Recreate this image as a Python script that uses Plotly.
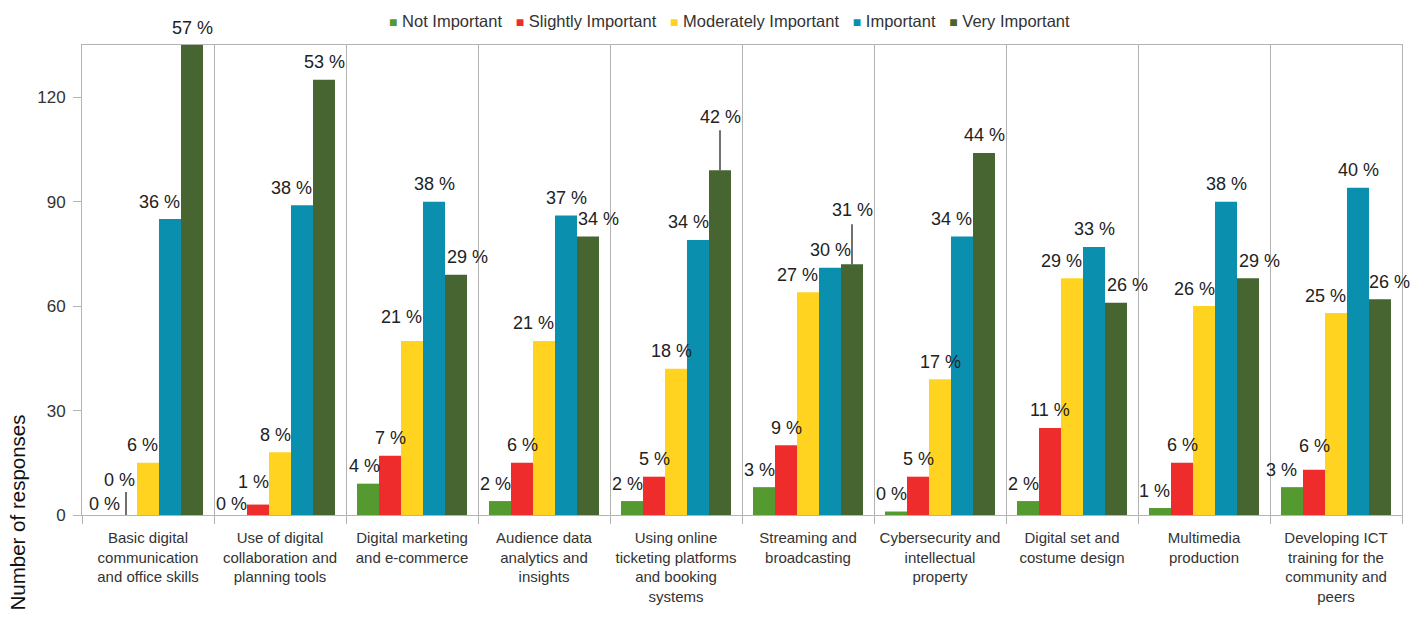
import plotly.graph_objects as go

# ---- data -----------------------------------------------------------------
categories = [
    "Basic digital<br>communication<br>and office skills",
    "Use of digital<br>collaboration and<br>planning tools",
    "Digital marketing<br>and e-commerce",
    "Audience data<br>analytics and<br>insights",
    "Using online<br>ticketing platforms<br>and booking<br>systems",
    "Streaming and<br>broadcasting",
    "Cybersecurity and<br>intellectual<br>property",
    "Digital set and<br>costume design",
    "Multimedia<br>production",
    "Developing ICT<br>training for the<br>community and<br>peers",
]

series_names = ["Not Important", "Slightly Important", "Moderately Important",
                "Important", "Very Important"]

not_important        = [0, 0, 9, 4, 4, 8, 1, 4, 2, 8]
slightly_important   = [0, 3, 17, 15, 11, 20, 11, 25, 15, 13]
moderately_important = [15, 18, 50, 50, 42, 64, 39, 68, 60, 58]
important            = [85, 89, 90, 86, 79, 71, 80, 77, 90, 94]
very_important       = [135, 125, 69, 80, 99, 72, 104, 61, 68, 62]

y_ticks = [0, 30, 60, 90, 120]

# ---- styling --------------------------------------------------------------
colors = ["#549a30", "#ee2c2c", "#ffd320", "#0b8fae", "#466530"]
FONT = "Liberation Sans, Arial, sans-serif"
GRID = "#b3b3b3"
BARGAP = 0.1667

# horizontal nudge (px) of each value label, per category / series
label_dx = [
    [0, -7, -6, -11, 0],
    [-5, -5, -5, -11, 0],
    [-4, 0, -11, 0, 11],
    [-5, 0, -11, 0, 10],
    [-5, 0, -5, -10, 0],
    [-5, 0, -11, 0, 0],
    [-5, 0, 0, -11, 0],
    [-5, 0, -11, 0, 11],
    [-6, 0, -10, 0, 11],
    [-11, 0, -11, 0, 9],
]
DEFAULT_GAP = 10.5
# labels sitting at a non-default height above their bar (px)
label_gap = {(0, 0): 4, (1, 0): 4, (1, 1): 16, (2, 2): 17, (9, 1): 17,
             (0, 1): 28, (4, 4): 46, (5, 4): 47}
# labels connected to their bar by a leader line (line length in px)
leaders = {(0, 1): 23, (4, 4): 40, (5, 4): 40}

series_values = [not_important, slightly_important, moderately_important,
                 important, very_important]
totals = [sum(col) for col in zip(*series_values)]

fig = go.Figure()
xs = list(range(len(categories)))
for name, vals, col in zip(series_names, series_values, colors):
    fig.add_trace(go.Bar(x=xs, y=vals, name=name, marker_color=col,
                         marker_line_width=0, showlegend=False))

bw = (1 - BARGAP) / len(series_names)
annotations = []
shapes = []
for k, vals in enumerate(series_values):
    for i, v in enumerate(vals):
        bx = i + (k - (len(series_names) - 1) / 2) * bw
        pct = round(v / totals[i] * 100)
        gap = label_gap.get((i, k), DEFAULT_GAP)
        annotations.append(dict(
            x=bx, y=v, xref="x", yref="y", text=f"{pct} %", showarrow=False,
            xanchor="center", yanchor="bottom", xshift=label_dx[i][k],
            yshift=gap - 5, font=dict(family=FONT, size=18, color="#222222")))
        if (i, k) in leaders:
            shapes.append(dict(
                type="line", xref="x", yref="y", x0=bx, x1=bx,
                ysizemode="pixel", yanchor=v, y0=0, y1=leaders[(i, k)],
                line=dict(color="#111111", width=1.2)))

# legend row
legend_parts = [
    f"<span style='color:{c};font-size:14px'>■</span>\u00a0{n}"
    for n, c in zip(series_names, colors)
]
annotations.append(dict(
    x=(729 - 82) / 1320, y=1 + 24 / 470, xref="paper", yref="paper",
    text="\u00a0\u00a0\u00a0".join(legend_parts), showarrow=False,
    xanchor="center", yanchor="middle",
    font=dict(family=FONT, size=16.5, color="#333333")))

# axis title
annotations.append(dict(
    x=(17 - 82) / 1320, y=(515 - 512.5) / 470, xref="paper", yref="paper",
    text="Number of responses", textangle=-90, showarrow=False,
    xanchor="center", yanchor="middle",
    font=dict(family=FONT, size=20.5, color="#111111")))

fig.update_layout(
    width=1424, height=617,
    margin=dict(l=82, r=22, t=45, b=102),
    paper_bgcolor="white", plot_bgcolor="white",
    barmode="group", bargap=BARGAP, bargroupgap=0,
    annotations=annotations, shapes=shapes,
    font=dict(family=FONT, color="#333333"),
)
fig.update_xaxes(
    range=[-0.5, len(categories) - 0.5],
    tickmode="array", tickvals=xs, ticktext=categories,
    ticks="outside", ticklen=9, tickcolor="rgba(0,0,0,0)",
    tickfont=dict(family=FONT, size=15, color="#333333"),
    showgrid=False, zeroline=False,
    showline=True, linecolor=GRID, linewidth=1, mirror=True,
    minor=dict(tick0=-0.5, dtick=1, ticks="outside", ticklen=8,
               tickcolor=GRID, showgrid=True, gridcolor=GRID, gridwidth=1),
)
fig.update_yaxes(
    range=[0, 135], tickmode="array", tickvals=y_ticks,
    ticks="outside", ticklen=8, tickcolor=GRID, ticklabelstandoff=4,
    tickfont=dict(family=FONT, size=17, color="#333333"),
    showgrid=False, zeroline=False,
    showline=True, linecolor=GRID, linewidth=1, mirror=True,
)

fig.write_html("out.html")
